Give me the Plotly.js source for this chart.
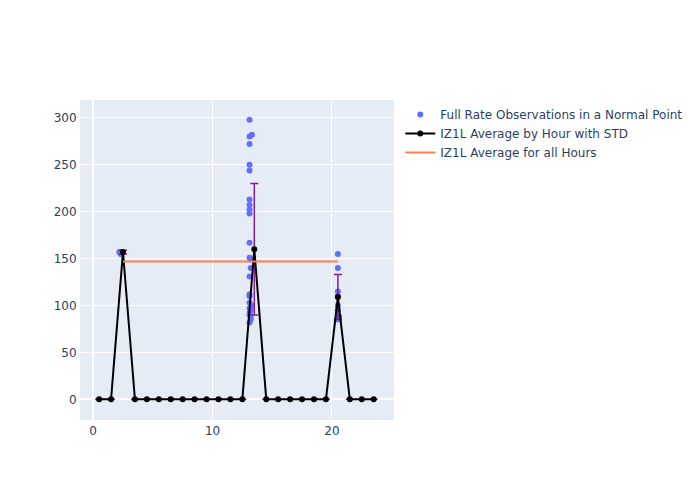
<!DOCTYPE html>
<html>
<head>
<meta charset="utf-8">
<script src="https://cdn.plot.ly/plotly-3.0.1.min.js"></script>
<style>html,body{margin:0;padding:0;}#chart{width:700px;height:500px;}</style>
</head>
<body>
<div id="chart"></div>
<script>
// Full rate observations
var obsX = [2.2, 2.3,
  13.1, 13.3, 13.1, 13.1, 13.1, 13.1, 13.1, 13.1, 13.1, 13.1,
  13.1, 13.1, 13.2, 13.2, 13.1, 13.1, 13.1, 13.1, 13.1, 13.1,
  13.2, 13.1, 13.2, 13.1, 13.2, 13.3,
  20.5, 20.5, 20.5, 20.5, 20.5, 20.5, 20.6, 20.5];
var obsY = [157, 155,
  298, 282, 280, 272, 250, 244, 213, 207, 202, 198,
  167, 151, 149, 140, 131, 112, 110, 103, 97, 92,
  88, 82, 95, 90, 85, 100,
  155, 140, 115, 110, 100, 95, 88, 85];

// Hourly averages
var hours = [0.5,1.5,2.5,3.5,4.5,5.5,6.5,7.5,8.5,9.5,10.5,11.5,12.5,13.5,14.5,15.5,16.5,17.5,18.5,19.5,20.5,21.5,22.5,23.5];
var avg   = [0,0,157,0,0,0,0,0,0,0,0,0,0,160,0,0,0,0,0,0,109,0,0,0];
var std   = [0,0,2,0,0,0,0,0,0,0,0,0,0,70,0,0,0,0,0,0,24,0,0,0];

// Overall average
var allX = [2.5, 20.5];
var allY = [147, 147];

var traces = [
  {x: obsX, y: obsY, mode: 'markers', type: 'scatter',
   name: 'Full Rate Observations in a Normal Point',
   marker: {color: '#636efa', size: 6}},
  {x: hours, y: avg, mode: 'lines+markers', type: 'scatter',
   name: 'IZ1L Average by Hour with STD',
   line: {color: 'black', width: 2},
   marker: {color: 'black', size: 6},
   error_y: {type: 'data', array: std, visible: true, color: '#8b1a9b', thickness: 1.5, width: 4}},
  {x: allX, y: allY, mode: 'lines', type: 'scatter',
   name: 'IZ1L Average for all Hours',
   line: {color: '#ff7f50', width: 2}}
];

var layout = {
  width: 700, height: 500,
  paper_bgcolor: 'white',
  plot_bgcolor: '#e5ecf6',
  font: {family: '"DejaVu Sans", sans-serif', size: 12, color: '#2a3f5f'},
  margin: {l: 80, r: 80, t: 100, b: 80},
  xaxis: {gridcolor: 'white', zerolinecolor: 'white', zerolinewidth: 2, linecolor: 'white', range: [-1.1, 25.2]},
  yaxis: {gridcolor: 'white', zerolinecolor: 'white', zerolinewidth: 2, linecolor: 'white', range: [-22, 319]},
  showlegend: true
};

Plotly.newPlot('chart', traces, layout, {displayModeBar: false});
</script>
</body>
</html>
